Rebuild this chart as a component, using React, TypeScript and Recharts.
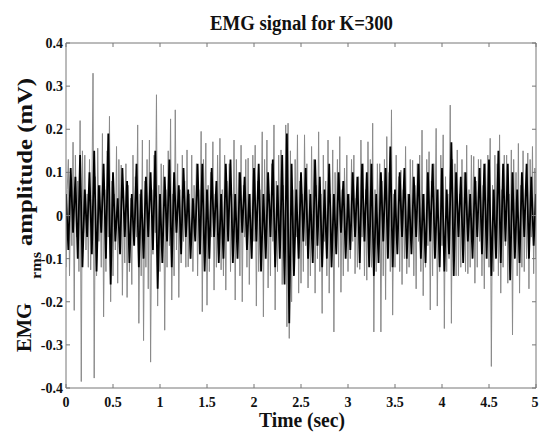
import React from "react";
import { LineChart, Line, XAxis, YAxis } from "recharts";

// ---- data ----
const TITLE = "EMG signal for K=300";
const X_LABEL = "Time (sec)";
const xTicks = [0, 0.5, 1, 1.5, 2, 2.5, 3, 3.5, 4, 4.5, 5];
const yTicks = [-0.4, -0.3, -0.2, -0.1, 0, 0.1, 0.2, 0.3, 0.4];
const SAMPLE_STEP = 0.0125; // seconds between samples of the full trace

// full trace (light strokes, spikes), 401 samples over 0..5 s
const emgTrace = [
  -0.12, 0.06, 0.13, -0.14, 0.05, -0.07, 0.17, -0.22, 0.14, -0.05,
  0.08, -0.13, 0.22, -0.385, 0.15, -0.04, 0.14, -0.08, 0.05, -0.12,
  0.13, -0.126, 0.04, 0.33, -0.377, 0.09, -0.14, 0.156, -0.06, 0.07,
  -0.12, 0.19, -0.235, 0.06, -0.13, 0.15, -0.05, 0.23, -0.2, 0.08,
  -0.14, 0.05, -0.08, 0.16, -0.157, 0.13, -0.05, 0.117, -0.185, 0.06,
  -0.11, 0.12, -0.19, 0.07, -0.13, 0.04, -0.16, 0.14, -0.06, 0.09,
  -0.05, 0.21, -0.25, 0.05, -0.14, 0.175, -0.29, 0.08, -0.12, 0.13,
  -0.17, 0.175, -0.34, 0.06, -0.09, 0.14, -0.04, 0.28, -0.21, 0.07,
  -0.13, 0.12, -0.05, 0.117, -0.266, 0.06, -0.12, 0.15, -0.07, 0.224,
  -0.196, 0.05, -0.14, 0.245, -0.08, 0.12, -0.19, 0.06, -0.11, 0.14,
  -0.06, 0.08, -0.12, 0.152, -0.119, 0.05, -0.1, 0.14, -0.13, 0.07,
  -0.05, 0.12, -0.14, 0.06, -0.09, 0.195, -0.223, 0.13, -0.05, 0.168,
  -0.208, 0.07, -0.13, 0.1, -0.05, 0.171, -0.173, 0.05, -0.12, 0.14,
  -0.07, 0.179, -0.126, 0.06, -0.14, 0.14, -0.173, 0.08, -0.05, 0.12,
  -0.13, 0.05, -0.09, 0.175, -0.196, 0.13, -0.06, 0.1, -0.14, 0.163,
  -0.2, 0.07, -0.05, 0.13, -0.12, 0.133, -0.16, 0.05, -0.1, 0.14,
  -0.06, 0.163, -0.21, 0.08, -0.13, 0.06, -0.05, 0.194, -0.235, 0.13,
  -0.07, 0.175, -0.168, 0.05, -0.14, 0.12, -0.06, 0.21, -0.219, 0.08,
  -0.13, 0.14, -0.05, 0.152, -0.16, 0.07, -0.14, 0.21, -0.258, 0.214,
  -0.285, 0.15, -0.2, 0.06, -0.12, 0.13, -0.05, 0.187, -0.18, 0.08,
  -0.157, 0.05, -0.13, 0.187, -0.07, 0.12, -0.168, 0.06, -0.14, 0.16,
  -0.05, 0.13, -0.18, 0.07, -0.1, 0.194, -0.13, 0.05, -0.227, 0.14,
  -0.06, 0.08, -0.14, 0.175, -0.18, 0.05, -0.12, 0.152, -0.27, 0.1,
  -0.05, 0.13, -0.12, 0.183, -0.178, 0.06, -0.14, 0.11, -0.05, 0.14,
  -0.13, 0.05, -0.1, 0.13, -0.06, 0.14, -0.135, 0.04, -0.12, 0.09,
  -0.125, 0.175, -0.05, 0.12, -0.14, 0.06, -0.15, 0.171, -0.07, 0.13,
  -0.12, 0.214, -0.27, 0.06, -0.13, 0.12, -0.05, 0.12, -0.27, 0.08,
  -0.14, 0.13, -0.195, 0.183, -0.06, 0.1, -0.13, 0.245, -0.231, 0.05,
  -0.12, 0.14, -0.06, 0.09, -0.13, 0.105, -0.16, 0.06, -0.1, 0.16,
  -0.135, 0.05, -0.12, 0.13, -0.05, 0.128, -0.14, 0.07, -0.17, 0.12,
  -0.06, 0.14, -0.13, 0.198, -0.186, 0.05, -0.12, 0.13, -0.07, 0.148,
  -0.219, 0.08, -0.14, 0.12, -0.05, 0.202, -0.21, 0.06, -0.13, 0.14,
  -0.07, 0.187, -0.262, 0.09, -0.13, 0.05, -0.1, 0.256, -0.25, 0.13,
  -0.06, 0.12, -0.14, 0.152, -0.14, 0.05, -0.12, 0.13, -0.06, 0.1,
  -0.13, 0.163, -0.135, 0.06, -0.12, 0.14, -0.05, 0.137, -0.157, 0.08,
  -0.12, 0.13, -0.06, 0.13, -0.14, 0.07, -0.17, 0.12, -0.05, 0.14,
  -0.12, 0.179, -0.35, 0.07, -0.13, 0.14, -0.06, 0.12, -0.14, 0.187,
  -0.18, 0.06, -0.12, 0.14, -0.07, 0.14, -0.157, 0.05, -0.13, 0.152,
  -0.277, 0.13, -0.06, 0.1, -0.14, 0.167, -0.18, 0.07, -0.12, 0.15,
  -0.13, 0.06, -0.1, 0.145, -0.17, 0.13, -0.05, 0.16, -0.135, 0.11,
  -0.1,
];

// dense dark core of the trace, 201 samples over 0..5 s
const emgCore = [
  0.05, -0.08, 0.11, -0.04, 0.09, -0.1, 0.14, -0.12, 0.06, -0.05,
  0.1, -0.09, 0.15, -0.13, 0.07, -0.04, 0.12, -0.1, 0.19, -0.16,
  0.1, -0.06, 0.04, -0.09, 0.11, -0.05, 0.08, -0.11, 0.05, -0.07,
  0.12, -0.12, 0.06, -0.1, 0.09, -0.05, 0.1, -0.08, 0.15, -0.17,
  0.05, -0.11, 0.09, -0.06, 0.13, -0.12, 0.1, -0.04, 0.07, -0.09,
  0.11, -0.05, 0.06, -0.1, 0.04, -0.06, 0.12, -0.09, 0.12, -0.13,
  0.06, -0.1, 0.11, -0.05, 0.08, -0.11, 0.05, -0.1, 0.12, -0.06,
  0.13, -0.11, 0.05, -0.1, 0.1, -0.04, 0.09, -0.08, 0.05, -0.1,
  0.11, -0.06, 0.12, -0.13, 0.05, -0.1, 0.1, -0.05, 0.13, -0.12,
  0.07, -0.1, 0.14, -0.16, 0.19, -0.25, 0.12, -0.14, 0.06, -0.1,
  0.1, -0.06, 0.11, -0.1, 0.05, -0.11, 0.13, -0.07, 0.09, -0.12,
  0.06, -0.1, 0.12, -0.12, 0.05, -0.09, 0.1, -0.04, 0.08, -0.1,
  0.05, -0.08, 0.1, -0.05, 0.09, -0.11, 0.12, -0.06, 0.1, -0.12,
  0.12, -0.14, 0.05, -0.11, 0.1, -0.06, 0.11, -0.1, 0.16, -0.12,
  0.06, -0.09, 0.1, -0.05, 0.11, -0.1, 0.05, -0.09, 0.09, -0.05,
  0.12, -0.1, 0.05, -0.11, 0.1, -0.06, 0.12, -0.1, 0.06, -0.12,
  0.11, -0.13, 0.06, -0.09, 0.17, -0.14, 0.1, -0.05, 0.09, -0.11,
  0.1, -0.06, 0.05, -0.1, 0.09, -0.05, 0.11, -0.09, 0.12, -0.1,
  0.13, -0.14, 0.06, -0.1, 0.15, -0.11, 0.12, -0.06, 0.12, -0.15,
  0.1, -0.1, 0.06, -0.11, 0.1, -0.05, 0.12, -0.1, 0.09, -0.07,
  0.05,
];

const rows = emgTrace.map((v, i) => ({
  t: Number((i * SAMPLE_STEP).toFixed(4)),
  trace: v,
  core: i % 2 === 0 && i / 2 < emgCore.length ? emgCore[i / 2] : null,
}));

const FONT = "'Liberation Serif', 'Times New Roman', serif";
const FRAME = "#777777";

const fmt = (v: number) => String(Number(v.toFixed(2)));

const XTick = (p: any) => (
  <text
    x={p.x}
    y={p.y}
    dy="0.71em"
    textAnchor="middle"
    fontFamily={FONT}
    fontWeight="bold"
    fontSize={14}
    fill="#111"
  >
    {fmt(p.payload.value)}
  </text>
);

const YTick = (p: any) => (
  <text
    x={p.x}
    y={p.y}
    dy="0.36em"
    textAnchor="end"
    fontFamily={FONT}
    fontWeight="bold"
    fontSize={14}
    fill="#111"
  >
    {fmt(p.payload.value)}
  </text>
);

const NoTick = () => null;

export default function App() {
  return (
    <div style={{ position: "absolute", left: 0, top: 0, width: 539, height: 433, background: "#fff" }}>
      <LineChart
        width={539}
        height={433}
        data={rows}
        margin={{ top: 42, right: 2, bottom: 20, left: 0 }}
      >
        <XAxis
          xAxisId="bottom"
          type="number"
          dataKey="t"
          domain={[0, 5]}
          ticks={xTicks}
          allowDataOverflow
          height={25}
          tickSize={-4}
          tickMargin={13}
          tick={XTick}
          stroke={FRAME}
          axisLine={{ stroke: FRAME, strokeWidth: 1 }}
          tickLine={{ stroke: FRAME }}
        />
        <XAxis
          xAxisId="top"
          orientation="top"
          type="number"
          dataKey="t"
          domain={[0, 5]}
          ticks={xTicks}
          allowDataOverflow
          height={1}
          tickSize={-4}
          tick={NoTick}
          axisLine={{ stroke: FRAME, strokeWidth: 1 }}
          tickLine={{ stroke: FRAME }}
        />
        <YAxis
          yAxisId="left"
          type="number"
          domain={[-0.4, 0.4]}
          ticks={yTicks}
          allowDataOverflow
          width={66}
          tickSize={-4}
          tickMargin={7}
          tick={YTick}
          axisLine={{ stroke: FRAME, strokeWidth: 1 }}
          tickLine={{ stroke: FRAME }}
        />
        <YAxis
          yAxisId="right"
          orientation="right"
          type="number"
          domain={[-0.4, 0.4]}
          ticks={yTicks}
          allowDataOverflow
          width={1}
          tickSize={-4}
          tick={NoTick}
          axisLine={{ stroke: FRAME, strokeWidth: 1 }}
          tickLine={{ stroke: FRAME }}
        />
        <Line
          xAxisId="bottom"
          yAxisId="left"
          type="linear"
          dataKey="trace"
          stroke="#8a8a8a"
          strokeWidth={1}
          dot={false}
          activeDot={false}
          isAnimationActive={false}
        />
        <Line
          xAxisId="bottom"
          yAxisId="left"
          type="linear"
          dataKey="core"
          stroke="#000"
          strokeWidth={1.8}
          dot={false}
          activeDot={false}
          connectNulls
          isAnimationActive={false}
        />
      </LineChart>
      <svg
        width={539}
        height={433}
        style={{ position: "absolute", left: 0, top: 0, pointerEvents: "none" }}
      >
        <text
          x={301.5}
          y={29.5}
          textAnchor="middle"
          fontFamily={FONT}
          fontWeight="bold"
          fontSize={20}
          textLength={183}
          lengthAdjust="spacingAndGlyphs"
          fill="#111"
        >
          {TITLE}
        </text>
        <text
          x={302}
          y={427}
          textAnchor="middle"
          fontFamily={FONT}
          fontWeight="bold"
          fontSize={20}
          textLength={86}
          lengthAdjust="spacingAndGlyphs"
          fill="#111"
        >
          {X_LABEL}
        </text>
        <g transform="rotate(-90)" fontFamily={FONT} fontWeight="bold" fill="#111">
          <text x={-352} y={31} fontSize={22} textLength={49} lengthAdjust="spacingAndGlyphs">
            EMG
          </text>
          <text x={-279} y={41} fontSize={15} textLength={27} lengthAdjust="spacingAndGlyphs">
            rms
          </text>
          <text x={-246} y={32} fontSize={20} textLength={168} lengthAdjust="spacingAndGlyphs">
            amplitude (mV)
          </text>
        </g>
      </svg>
    </div>
  );
}
